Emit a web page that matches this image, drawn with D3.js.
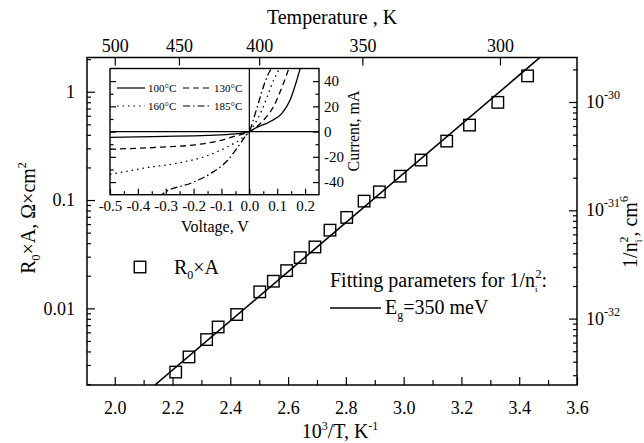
<!DOCTYPE html>
<html><head><meta charset="utf-8">
<script src="https://cdn.jsdelivr.net/npm/d3@7/dist/d3.min.js"></script>
<style>body{margin:0;background:#fff}svg{display:block}text{font-family:"Liberation Serif","Times New Roman",serif;fill:#000}</style>
</head><body><svg id="c" width="644" height="443"></svg>
<script>
// main data: R0*A vs 10^3/T
const invT = [2.211,2.257,2.318,2.358,2.422,2.502,2.549,2.595,2.642,2.693,2.745,2.803,2.863,2.916,2.988,3.060,3.149,3.228,3.326,3.429];
const r0a  = [0.00258,0.00356,0.00515,0.00673,0.00877,0.0142,0.0178,0.0223,0.0294,0.0369,0.0527,0.0691,0.0977,0.119,0.166,0.234,0.350,0.492,0.798,1.40];
// fit line (Eg = 350 meV), end points
const fitX = [2.139, 3.478];
const fitY = [0.00196, 2.14];
// axis ticks
const xMajor = [2.0,2.2,2.4,2.6,2.8,3.0,3.2,3.4,3.6];
const xMinor = [2.1,2.3,2.5,2.7,2.9,3.1,3.3,3.5];
const tempTicks = [500,450,400,350,300];
const leftMajor = [0.01,0.1,1];
const rightMajor = [1e-32,1e-31,1e-30];
// inset I-V curves
const ivV100 = [-0.5,-0.3,-0.15,-0.05,0,0.02,0.074,0.117,0.146,0.17,0.185];
const ivI100 = [-4.5,-3.8,-3,-1.8,0,2.6,7.8,14.4,24.8,40.5,52];
const ivV130 = [-0.5,-0.315,-0.195,-0.111,-0.051,0,0.027,0.056,0.086,0.117,0.137,0.145];
const ivI130 = [-14,-12.3,-10.5,-7.4,-3.5,0,3.9,10.4,19.5,35.2,47,52];
const ivV160 = [-0.5,-0.375,-0.255,-0.159,-0.076,-0.027,0,0.02,0.045,0.068,0.089,0.104,0.11];
const ivI160 = [-34,-28.8,-24.9,-19.7,-11.8,-5.3,0,6.5,16.9,30,41.8,48.3,52];
const ivV185 = [-0.325,-0.309,-0.207,-0.135,-0.076,-0.04,-0.015,0,0.014,0.032,0.05,0.068,0.077,0.08];
const ivI185 = [-52,-49,-40.6,-32.7,-22.3,-11.8,-4,0,9.1,22.2,35.2,45.7,49.6,52];
const ivLabels = ["100°C","130°C","160°C","185°C"];
const insetXTicks = [-0.5,-0.4,-0.3,-0.2,-0.1,0.0,0.1,0.2];
const insetYTicks = [-40,-20,0,20,40];

const svg = d3.select("#c");
const L=87,R=577,T=57.5,B=385;
const x = d3.scaleLinear().domain([1.904,3.6]).range([L,R]);
const yL = d3.scaleLog().domain([0.00196,2.07]).range([B,T]);
const yR = d3.scaleLog().domain([Math.pow(10,-32.613),Math.pow(10,-29.589)]).range([B,T]);

const defs = svg.append("defs");
defs.append("clipPath").attr("id","pc").append("rect").attr("x",L).attr("y",T).attr("width",R-L).attr("height",B-T);

function minorLog(scale){
  const d=scale.domain(), out=[];
  for(let e=Math.floor(Math.log10(d[0]));e<=Math.ceil(Math.log10(d[1]));e++)
    for(let m=2;m<=9;m++){const v=m*Math.pow(10,e); if(v>=d[0]&&v<=d[1]) out.push(v);}
  return out;
}
function clean(g){g.select(".domain").remove(); g.selectAll("line").attr("stroke","#000").attr("stroke-width",1.2);}

// bottom axis
svg.append("g").attr("transform",`translate(0,${B})`).call(d3.axisBottom(x).tickValues(xMajor).tickSize(-8).tickFormat(d3.format(".1f")).tickPadding(16)).call(clean)
  .selectAll("text").attr("font-size",18).attr("font-family","Liberation Serif");
svg.append("g").attr("transform",`translate(0,${B})`).call(d3.axisBottom(x).tickValues(xMinor).tickSize(-5).tickFormat("")).call(clean);
// top axis (temperature)
svg.append("g").attr("transform",`translate(0,${T})`).call(d3.axisTop(x).tickValues(tempTicks.map(t=>1000/t)).tickSize(-8).tickPadding(6).tickFormat((d,i)=>tempTicks[i])).call(clean)
  .selectAll("text").attr("font-size",18).attr("font-family","Liberation Serif");
// left axis
svg.append("g").attr("transform",`translate(${L},0)`).call(d3.axisLeft(yL).tickValues(leftMajor).tickSize(-8).tickPadding(12).tickFormat(d=>d>=1?"1":String(d))).call(clean)
  .selectAll("text").attr("font-size",18).attr("font-family","Liberation Serif");
svg.append("g").attr("transform",`translate(${L},0)`).call(d3.axisLeft(yL).tickValues(minorLog(yL)).tickSize(-4).tickFormat("")).call(clean);
// right axis
svg.append("g").attr("transform",`translate(${R},0)`).call(d3.axisRight(yR).tickValues(rightMajor).tickSize(-8).tickFormat("")).call(clean);
svg.append("g").attr("transform",`translate(${R},0)`).call(d3.axisRight(yR).tickValues(minorLog(yR)).tickSize(-4).tickFormat("")).call(clean);
rightMajor.forEach(v=>{
  const t=svg.append("text").attr("x",R+9).attr("y",yR(v)+6).attr("font-size",18);
  t.append("tspan").text("10");
  t.append("tspan").attr("dy",-9).attr("font-size",12).text(String(Math.round(Math.log10(v))));
});
// frame
svg.append("rect").attr("x",L).attr("y",T).attr("width",R-L).attr("height",B-T).attr("fill","none").attr("stroke","#000").attr("stroke-width",1.5);

// fit line
svg.append("path").attr("clip-path","url(#pc)").datum(fitX.map((v,i)=>[v,fitY[i]]))
  .attr("d",d3.line().x(d=>x(d[0])).y(d=>yL(d[1]))).attr("stroke","#000").attr("stroke-width",1.6).attr("fill","none");
// squares
const S=11.5;
svg.append("g").selectAll("rect").data(invT.map((v,i)=>[v,r0a[i]])).join("rect")
  .attr("x",d=>x(d[0])-S/2).attr("y",d=>yL(d[1])-S/2).attr("width",S).attr("height",S)
  .attr("fill","none").attr("stroke","#000").attr("stroke-width",1.4);

// axis titles
svg.append("text").attr("x",332).attr("y",24).attr("text-anchor","middle").attr("font-size",20).text("Temperature , K");
{const t=svg.append("text").attr("x",340).attr("y",438).attr("text-anchor","middle").attr("font-size",20);
 t.append("tspan").text("10"); t.append("tspan").attr("dy",-8).attr("font-size",12).text("3");
 t.append("tspan").attr("dy",8).text("/T,  K"); t.append("tspan").attr("dy",-8).attr("font-size",12).text("-1");}
{const t=svg.append("text").attr("transform","translate(35,218) rotate(-90)").attr("text-anchor","middle").attr("font-size",20);
 t.append("tspan").text("R"); t.append("tspan").attr("dy",5).attr("font-size",12).text("0");
 t.append("tspan").attr("dy",-5).text("×A,  Ω×cm"); t.append("tspan").attr("dy",-9).attr("font-size",12).text("2");}
{const t=svg.append("text").attr("transform","translate(637,232) rotate(-90)").attr("text-anchor","middle").attr("font-size",20);
 t.append("tspan").text("1/n"); t.append("tspan").attr("dy",5).attr("font-size",10).text("i");
 t.append("tspan").attr("dy",-14).attr("dx",-3).attr("font-size",12).text("2");
 t.append("tspan").attr("dy",9).text(", cm"); t.append("tspan").attr("dy",-9).attr("font-size",12).text("6");}

// legend
svg.append("rect").attr("x",140-S/2).attr("y",267-S/2).attr("width",S).attr("height",S).attr("fill","none").attr("stroke","#000").attr("stroke-width",1.4);
{const t=svg.append("text").attr("x",174).attr("y",274).attr("font-size",20);
 t.append("tspan").text("R"); t.append("tspan").attr("dy",5).attr("font-size",12).text("0");
 t.append("tspan").attr("dy",-5).text("×A");}
{const t=svg.append("text").attr("x",330).attr("y",287).attr("font-size",20);
 t.append("tspan").text("Fitting parameters for 1/n"); t.append("tspan").attr("dy",5).attr("font-size",9).text("i");
 t.append("tspan").attr("dy",-14).attr("dx",-2).attr("font-size",12).text("2"); t.append("tspan").attr("dy",9).text(":");}
svg.append("line").attr("x1",330).attr("x2",381).attr("y1",308).attr("y2",308).attr("stroke","#000").attr("stroke-width",1.4);
{const t=svg.append("text").attr("x",385).attr("y",314).attr("font-size",20);
 t.append("tspan").text("E"); t.append("tspan").attr("dy",5).attr("font-size",12).text("g");
 t.append("tspan").attr("dy",-5).text("=350 meV");}

// ---- inset ----
const IL=110,IR=319,IT=68.5,IB=194.7;
const xi = d3.scaleLinear().domain([-0.5,0.25]).range([IL,IR]);
const yi = d3.scaleLinear().domain([-50,50]).range([IB,IT]);
defs.append("clipPath").attr("id","ic").append("rect").attr("x",IL).attr("y",IT).attr("width",IR-IL).attr("height",IB-IT);
const ins = svg.append("g");
ins.append("rect").attr("x",IL).attr("y",IT).attr("width",IR-IL).attr("height",IB-IT).attr("fill","#fff");
const xiMin = d3.range(-0.45,0.25,0.1).map(v=>+v.toFixed(2));
ins.append("g").attr("transform",`translate(0,${IB})`).call(d3.axisBottom(xi).tickValues(insetXTicks).tickSize(-6).tickPadding(6).tickFormat(d3.format(".1f"))).call(clean)
  .selectAll("text").attr("font-size",15).attr("font-family","Liberation Serif").text(d=>d3.format(".1f")(d).replace("−","-"));
ins.append("g").attr("transform",`translate(0,${IB})`).call(d3.axisBottom(xi).tickValues(xiMin).tickSize(-3.5).tickFormat("")).call(clean);
const yiMin = [-30,-10,10,30];
ins.append("g").attr("transform",`translate(${IR},0)`).call(d3.axisRight(yi).tickValues(insetYTicks).tickSize(-6).tickPadding(5).tickFormat(d=>String(d))).call(clean)
  .selectAll("text").attr("font-size",15).attr("font-family","Liberation Serif").attr("text-anchor","start").attr("x",5);
ins.append("g").attr("transform",`translate(${IR},0)`).call(d3.axisRight(yi).tickValues(yiMin).tickSize(-3.5).tickFormat("")).call(clean);
ins.append("g").attr("transform",`translate(${IL},0)`).call(d3.axisLeft(yi).tickValues(insetYTicks).tickSize(-6).tickFormat("")).call(clean);
ins.append("g").attr("transform",`translate(${IL},0)`).call(d3.axisLeft(yi).tickValues(yiMin).tickSize(-3.5).tickFormat("")).call(clean);
ins.append("line").attr("x1",IL).attr("x2",IR).attr("y1",yi(0)).attr("y2",yi(0)).attr("stroke","#000").attr("stroke-width",1.4);
ins.append("line").attr("x1",xi(0)).attr("x2",xi(0)).attr("y1",IT).attr("y2",IB).attr("stroke","#000").attr("stroke-width",1.2);
const dashes = [null,"6,4","1.5,4","7,3,1.5,3"];
const ivV=[ivV100,ivV130,ivV160,ivV185], ivI=[ivI100,ivI130,ivI160,ivI185];
const ln = d3.line().x(d=>xi(d[0])).y(d=>yi(d[1])).curve(d3.curveMonotoneX);
ivV.forEach((vs,k)=>{
  ins.append("path").attr("clip-path","url(#ic)").datum(vs.map((v,i)=>[v,ivI[k][i]])).attr("d",ln)
    .attr("fill","none").attr("stroke","#000").attr("stroke-width",1.3).attr("stroke-dasharray",dashes[k]);
});
ins.append("rect").attr("x",IL).attr("y",IT).attr("width",IR-IL).attr("height",IB-IT).attr("fill","none").attr("stroke","#000").attr("stroke-width",1.4);
const legPos=[[117,88],[183,88],[117,106],[183,106]];
ivLabels.forEach((lab,k)=>{
  const [lx,ly]=legPos[k];
  ins.append("line").attr("x1",lx).attr("x2",lx+28).attr("y1",ly).attr("y2",ly).attr("stroke","#000").attr("stroke-width",1.2).attr("stroke-dasharray",dashes[k]);
  ins.append("text").attr("x",lx+31).attr("y",ly+4).attr("font-size",11).text(lab);
});
ins.append("text").attr("x",215).attr("y",232).attr("text-anchor","middle").attr("font-size",16).text("Voltage, V");
ins.append("text").attr("transform","translate(359,131) rotate(-90)").attr("text-anchor","middle").attr("font-size",16).text("Current, mA");
</script></body></html>
